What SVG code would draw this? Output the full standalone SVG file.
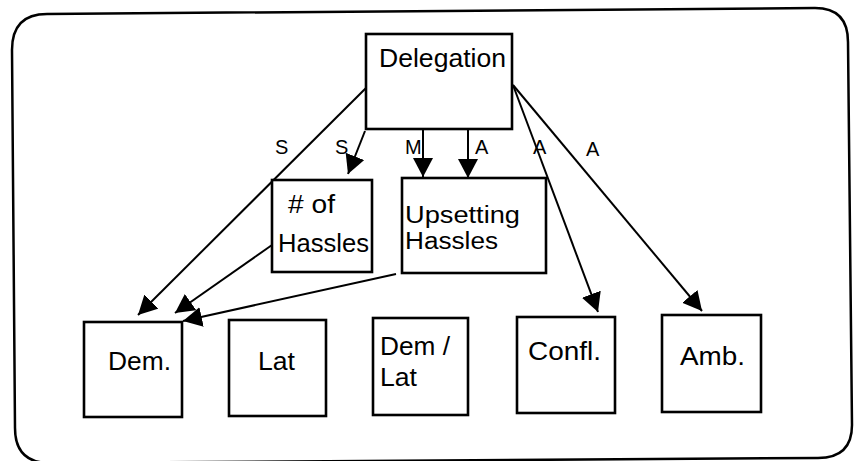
<svg xmlns="http://www.w3.org/2000/svg" width="854" height="461" viewBox="0 0 854 461">
  <style>
    .frame { fill: none; stroke: #000; stroke-width: 2.5; }
    .box { fill: #fff; stroke: #000; stroke-width: 2.6; }
    .lbl { font-family: "Liberation Sans", Arial, sans-serif; font-size: 25px; fill: #000; }
    .tight { font-size: 23px; }
    .tag { font-family: "Liberation Sans", Arial, sans-serif; font-size: 20px; fill: #000; }
    .edge { fill: none; stroke: #000; stroke-width: 2; marker-end: url(#head); }
  </style>
  <defs>
    <marker id="head" markerUnits="userSpaceOnUse" markerWidth="22" markerHeight="22" refX="19" refY="10" orient="auto">
      <path d="M0,0 L19,10 L0,20 Z" fill="#000"/>
    </marker>
  </defs>
  <rect width="854" height="461" fill="#fff"/>

  <!-- surrounding rounded frame -->
  <path class="frame" d="M47,14 L815,8 Q848,8 848,42 L852,425 Q852,458 818,458 L50,463 Q15,463 15,428 L12,50 Q12,14 47,14 Z"/>

  <!-- connectors -->
  <g id="connectors">
    <line class="edge" x1="366" y1="88" x2="138" y2="315"/>
    <line class="edge" x1="365" y1="131" x2="348" y2="174"/>
    <line class="edge" x1="423" y1="130" x2="423" y2="177"/>
    <line class="edge" x1="468" y1="130" x2="468" y2="178"/>
    <line class="edge" x1="513" y1="85" x2="598" y2="312"/>
    <line class="edge" x1="513" y1="85" x2="702" y2="311"/>
    <line class="edge" x1="272" y1="245" x2="175" y2="313"/>
    <line class="edge" x1="396" y1="274" x2="183" y2="321"/>
    <text class="tag" x="275" y="154">S</text>
    <text class="tag" x="335" y="154">S</text>
    <text class="tag" x="405" y="154">M</text>
    <text class="tag" x="475" y="154">A</text>
    <text class="tag" x="533" y="154">A</text>
    <text class="tag" x="586" y="156">A</text>
  </g>

  <g id="delegation">
    <rect class="box" x="366" y="34" width="146" height="95"/>
    <text class="lbl" x="379" y="67" textLength="127" lengthAdjust="spacingAndGlyphs">Delegation</text>
  </g>

  <g id="num-hassles">
    <rect class="box" x="272" y="180" width="100" height="92"/>
    <text class="lbl" x="288" y="213" textLength="47" lengthAdjust="spacingAndGlyphs"># of</text>
    <text class="lbl" x="278" y="252" textLength="91" lengthAdjust="spacingAndGlyphs">Hassles</text>
  </g>

  <g id="upsetting-hassles">
    <rect class="box" x="402" y="178" width="144" height="95"/>
    <text class="lbl tight" x="405" y="223" textLength="115" lengthAdjust="spacingAndGlyphs">Upsetting</text>
    <text class="lbl tight" x="405" y="249" textLength="93" lengthAdjust="spacingAndGlyphs">Hassles</text>
  </g>

  <g id="dem">
    <rect class="box" x="84" y="322" width="98" height="95"/>
    <text class="lbl" x="108" y="370" textLength="63" lengthAdjust="spacingAndGlyphs">Dem.</text>
  </g>

  <g id="lat">
    <rect class="box" x="229" y="320" width="97" height="96"/>
    <text class="lbl" x="258" y="370" textLength="37" lengthAdjust="spacingAndGlyphs">Lat</text>
  </g>

  <g id="dem-lat">
    <rect class="box" x="373" y="318" width="95" height="97"/>
    <text class="lbl" x="380" y="355" textLength="70" lengthAdjust="spacingAndGlyphs">Dem /</text>
    <text class="lbl" x="380" y="386" textLength="37" lengthAdjust="spacingAndGlyphs">Lat</text>
  </g>

  <g id="confl">
    <rect class="box" x="517" y="317" width="98" height="96"/>
    <text class="lbl" x="528" y="360" textLength="73" lengthAdjust="spacingAndGlyphs">Confl.</text>
  </g>

  <g id="amb">
    <rect class="box" x="662" y="315" width="99" height="97"/>
    <text class="lbl" x="680" y="365" textLength="65" lengthAdjust="spacingAndGlyphs">Amb.</text>
  </g>
</svg>
